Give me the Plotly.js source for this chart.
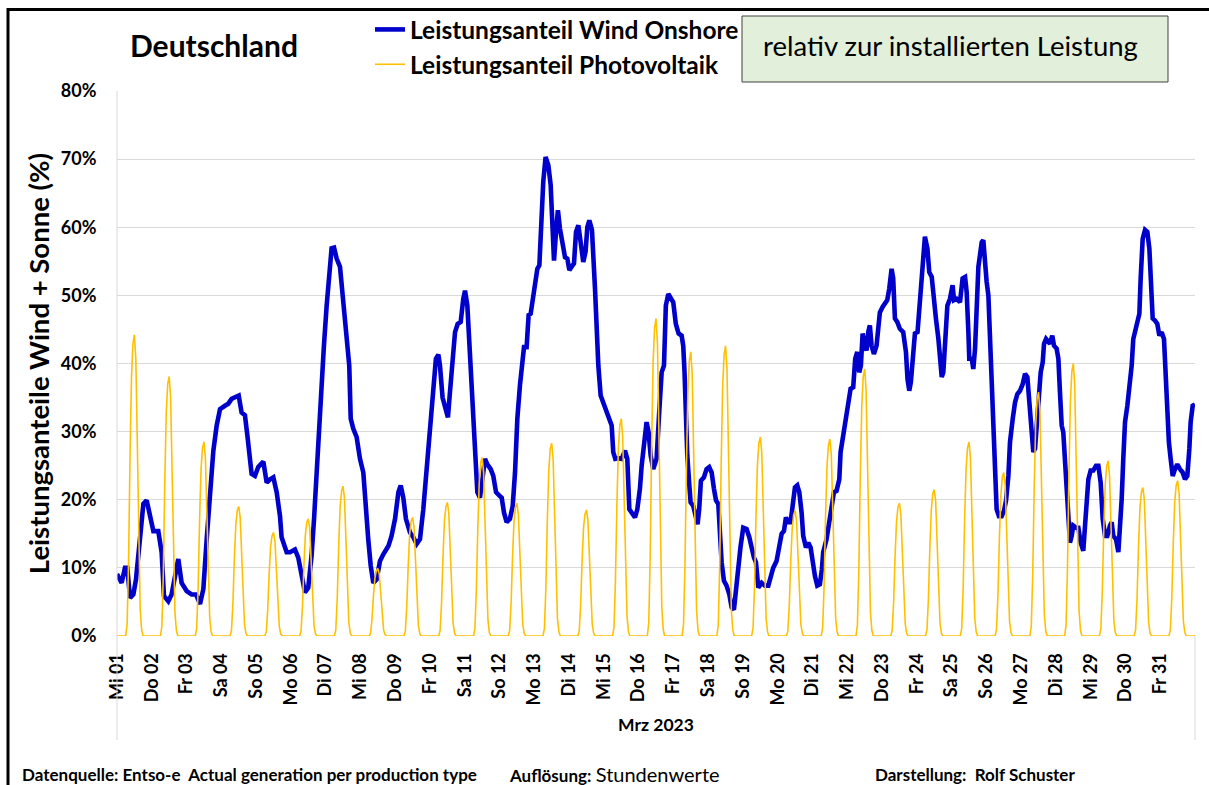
<!DOCTYPE html>
<html><head><meta charset="utf-8">
<script src="https://cdn.plot.ly/plotly-3.0.1.min.js"></script>
<style>html,body{margin:0;padding:0;background:#fff;} #chart{width:1209px;height:785px;}</style>
</head><body><div id="chart"></div>
<script>
const dayLabels = ["Mi 01","Do 02","Fr 03","Sa 04","So 05","Mo 06","Di 07","Mi 08","Do 09","Fr 10","Sa 11","So 12","Mo 13","Di 14","Mi 15","Do 16","Fr 17","Sa 18","So 19","Mo 20","Di 21","Mi 22","Do 23","Fr 24","Sa 25","So 26","Mo 27","Di 28","Mi 29","Do 30","Fr 31"];
const yTickValues = [0,10,20,30,40,50,60,70,80];
const yTickLabels = ["0%","10%","20%","30%","40%","50%","60%","70%","80%"];

// hours since 01.03.2023 00:00
const windHours = [0,3.2,5.5,7.1,9,11.3,13.1,14.7,17,18.2,20.5,22.8,25.1,28.5,30.8,32.4,35.4,37.7,40,42.3,44.6,48.1,51.5,54.5,57.3,59.6,61.9,64.2,66.5,68.8,71.1,74.5,76.8,79.1,82.6,84,86,88.3,90,91.3,92.9,95.2,97.5,101,103.3,105.6,107.9,110.2,112.5,113.6,117.1,119.4,122.8,125.1,127.4,129.7,132,134.3,136,137.8,139.6,141.2,142.8,144.7,146.5,148.1,149.8,151.6,153.9,155.7,157.4,159,160.3,161.3,163.1,165.4,167.7,170,171.2,173.4,175.1,176.9,179.2,181.5,183.8,187.3,189.5,191.9,194.2,195.8,197.6,199.4,202.2,204.5,206.8,209.1,211.4,213.2,214.9,216.5,218.3,220.1,221.8,222.9,224.7,226.6,228.4,229.8,231.6,233.3,235.1,237.2,239,240.2,241.8,243.6,245.5,247.1,248.7,250.5,252.4,254,255.6,257.9,259.7,261.6,263.9,265.5,267.1,268.9,271.2,273.1,274.7,276.3,278.1,280,280.9,282.7,284.1,285.5,286.9,288.5,290.1,291.5,292.8,294.2,295.8,297.7,299.3,300.7,301.6,303,304.3,305.7,307.6,309.2,310.8,312.2,313.8,315.4,316.8,318.4,320,321.8,323.4,324.6,326,327.8,329.9,331,332.2,333.8,335.6,337.5,339.3,341.4,342.5,343.9,346,348.3,350.6,352.2,353.6,355.6,357.5,359.1,360.9,362.1,363.7,365.5,366.9,368.3,370.1,372.4,374.2,375.9,377.5,378.8,380.5,382.1,383.9,385.7,387.6,389.7,390.8,391.7,392.6,393.6,395,395.9,397.7,399.1,400.7,401.8,403,405.1,406.9,408.7,410.4,412,413.4,415,416.1,417.3,418.9,420.7,422.6,424.2,425.8,427.2,428.8,430.4,432.2,434.5,436.4,438,439.6,441,442.6,444.9,447.2,449.5,451.1,452.9,455.2,457.1,458.7,460.3,461.7,463.3,464.9,466.3,467.9,469.5,470.9,472.5,473.6,475.5,477.1,478.7,480.1,481.7,483.3,485.1,486.5,487.4,489.7,491.6,493.2,494.8,496.6,498.5,499.4,500.8,501.7,503.5,504.9,506.3,508.1,509.5,510.9,512.3,513.4,514.6,516.2,517.3,518.5,519.6,520.8,522.4,524.2,525.4,526.5,528.4,530,531.6,533,534.6,535.7,536.9,538.5,540.3,542.6,544.5,545.6,546.8,547.9,549.5,550.7,552.5,554.1,556,557.6,559.3,560.6,562.3,563.4,565.2,566.9,568,569.2,570.3,571.5,573.1,574.9,576.7,577.7,579.5,581.8,583.6,585.3,586.4,587.6,588.2,589.9,591,592.2,593.3,594.5,595.6,596.8,597.9,599.1,600.2,601.4,602.5,603.7,604.8,606,607.1,608.7,610.6,612.2,613.6,615.2,616.3,618.2,619.8,621.4,623.2,625.1,626.7,628.3,629.7,630.8,632.4,633.6,634.7,635.9,637.5,638.9,639.8,641.2,642.8,643.9,645.5,646.7,648.5,649.7,650.8,652,653.1,654.3,655.4,656.6,657.7,658.9,660,661.9,663.5,665.1,666.9,668.1,669.2,670.4,672,673.8,675.7,677.3,678.9,680.3,681.9,683.5,685.3,686.5,687.6,689.5,691.1,692.2,693.4,694.5,695.7,697.3,698.7,700.3,701.4,702.6,704.2,705.6,706.5,707.9,709.5,711.1,712.5,713.6,714.8,716.4,718,719.4,721,722.6,723.7,724.9,726,727.2,728.6,730.2,731.8,733.6,735.5,737.1,738.7,740.1,741,742.4,744];

const windValues = [9.1,7.8,10,10,5.6,6.1,8.3,11.8,15.2,19.4,19.9,17.2,15.4,15.4,12.3,5.9,5.1,6.1,8.8,11.3,7.8,6.6,6.1,6.1,4.7,6.9,14.2,21.6,27.2,30.9,33.3,33.8,34.1,34.8,35.3,35.3,32.8,32.4,29.4,26.5,23.8,23.5,24.8,25.6,22.5,23,23.3,21.1,17.6,14.5,12.3,12.3,12.7,11.5,9.3,6.4,7.1,11.8,17.2,24,32.8,38.7,42.6,48.5,52.5,56.9,57,55.4,54.2,50.5,47.1,43.6,39.7,31.9,30.4,29.2,26,24,20.1,14.2,10.3,7.8,8.3,11,12,13.2,14.7,17.2,21.1,22.1,20.3,17.2,15.2,14.5,13.5,14.2,18.6,23.5,27.9,32.4,35.8,40.7,41.3,39.7,35,33.3,32.1,35.8,40.2,44.6,45.8,46.1,49.5,50.7,48.5,41.7,33.8,26.5,21.1,20.3,23.5,26,25.2,24.5,23.5,21.1,20.6,20.3,18.1,16.7,17.2,19.1,24,31.9,36.8,40.7,42.4,42.4,47.1,47.3,49.5,52.5,53.9,54.4,60.3,66.7,70.3,69.1,66.2,56.9,55.1,59.3,62.5,59.8,57.8,55.6,55.4,53.7,54.2,54.7,59.3,60.3,57.8,54.9,56.4,60,61,59.6,51,43.6,39.7,35.3,34.3,33.3,31.9,30.9,27,26,26.1,26,27.2,26,18.6,18.1,17.4,18.6,21.6,25,27.5,31.4,29.9,26.5,24.5,26,32.8,38.7,39.7,48.5,50.2,49.5,49,45.8,44.4,44.1,42.6,38.7,31.4,26.5,22.1,19.6,19.1,17.6,16.4,18.6,22.8,23.3,24.5,24.8,24,21.6,19.9,19.4,15.2,10.8,8.1,7.4,6.1,4.2,3.9,6.9,10.3,13.2,15.9,15.7,14.5,12.7,11.5,10.8,7.1,7.8,7.4,7.4,8.8,10,11,13.7,15,15.4,17.4,16.7,16.7,19.1,21.8,22.1,21.1,18.1,14.7,13,13.7,13,10.8,8.8,7.4,7.6,9.8,12.3,14.2,16.7,19.1,21.1,21.3,23,27,28.9,30.9,32.4,34.8,36.3,36.5,40.7,41.7,38.7,39.7,44.4,42.6,41.9,44.6,45.6,42.6,41.4,42.6,44.6,47.5,48.3,48.8,49.3,51,53.9,52.5,46.6,46.1,45.1,44.6,41.7,37.7,36,37.3,42.6,44.4,44.6,49.5,55.9,58.6,56.9,53.4,52.7,49.8,46.6,43.6,41.2,38,38.7,44.1,48.5,49.5,51.5,49.3,49.5,49,52.5,52.7,50.5,44.6,40.7,40.7,39.2,42.2,49.5,54.2,55.9,57.8,58.1,54.4,52,50,44.6,38.7,31.4,26,18.6,17.6,17.6,18.4,19.9,23.5,28.4,31.9,34.3,35.5,36,37,38.5,38,34.3,30.4,27,27.5,30.9,35.5,38.7,40.2,42.9,43.6,43.1,42.9,44.1,42.6,42.2,40.7,35.8,30.9,29.9,26,21.1,17.2,13.7,14.7,16.2,15.9,15.9,13.7,12.5,16.2,20.1,23,24.3,24.3,25,25,22.5,17.2,14.7,14.7,16.2,16.7,14.7,14.2,12.3,15.2,20.1,26,31.4,33.8,36.3,39.7,43.6,44.6,46.6,47.3,52.5,58.3,59.6,59.3,56.9,51.5,46.6,46.3,45.8,44.1,44.6,43.6,38.7,32.4,28.4,26,23.5,24.5,25.2,24.5,24,23,23.5,27.5,31.4,33.8,34];

// PV share for the daylight hours 07:00 ... 17:00 of each day (0 outside)
const pvHours = [7,8,9,10,11,12,13,14,15,16,17];
const pvDays = [
 [1.8,11.1,26.5,38.0,42.9,44.2,40.7,30.1,14.6,4.0,0.9],
 [1.5,9.5,22.9,32.8,37.0,38.1,35.1,25.9,12.6,3.4,0.8],
 [1.1,7.1,17.1,24.5,27.6,28.5,26.2,19.4,9.4,2.6,0.6],
 [0.8,4.8,11.4,16.3,18.4,19.0,17.5,12.9,6.3,1.7,0.4],
 [0.6,3.8,9.1,13.1,14.7,15.2,14.0,10.3,5.0,1.4,0.3],
 [0.7,4.3,10.3,14.8,16.7,17.2,15.8,11.7,5.7,1.5,0.3],
 [0.9,5.5,13.2,18.9,21.3,22.0,20.2,15.0,7.3,2.0,0.4],
 [0.4,2.5,5.9,8.5,9.6,9.9,9.1,6.7,3.3,0.9,0.2],
 [0.7,4.4,10.4,15.0,16.9,17.4,16.0,11.8,5.7,1.6,0.3],
 [0.8,4.9,11.8,16.9,19.0,19.6,18.0,13.3,6.5,1.8,0.4],
 [1.0,6.6,15.7,22.5,25.4,26.2,24.1,17.8,8.6,2.4,0.5],
 [0.8,4.9,11.7,16.8,18.9,19.5,17.9,13.3,6.4,1.8,0.4],
 [1.1,7.1,17.0,24.3,27.5,28.3,26.0,19.2,9.3,2.5,0.6],
 [0.7,4.6,11.1,15.9,17.9,18.5,17.0,12.6,6.1,1.7,0.4],
 [1.3,8.0,19.1,27.4,30.9,31.9,29.3,21.7,10.5,2.9,0.6],
 [1.9,11.7,28.0,40.1,45.2,46.6,42.9,31.7,15.4,4.2,0.9],
 [1.7,10.4,25.0,35.9,40.4,41.7,38.4,28.4,13.8,3.8,0.8],
 [1.7,10.7,25.6,36.6,41.3,42.6,39.2,29.0,14.1,3.8,0.9],
 [1.2,7.3,17.5,25.1,28.3,29.2,26.9,19.9,9.6,2.6,0.6],
 [0.7,4.6,11.0,15.8,17.8,18.4,16.9,12.5,6.1,1.7,0.4],
 [1.2,7.2,17.3,24.9,28.0,28.9,26.6,19.7,9.5,2.6,0.6],
 [1.6,9.8,23.5,33.7,38.0,39.2,36.1,26.7,12.9,3.5,0.8],
 [0.8,4.9,11.7,16.8,18.9,19.5,17.9,13.3,6.4,1.8,0.4],
 [0.9,5.4,12.9,18.5,20.9,21.5,19.8,14.6,7.1,1.9,0.4],
 [1.1,7.1,17.1,24.5,27.6,28.5,26.2,19.4,9.4,2.6,0.6],
 [1.0,6.0,14.4,20.6,23.3,24.0,22.1,16.3,7.9,2.2,0.5],
 [1.4,9.0,21.5,30.8,34.7,35.8,32.9,24.3,11.8,3.2,0.7],
 [1.6,10.0,24.0,34.4,38.8,40.0,36.8,27.2,13.2,3.6,0.8],
 [1.0,6.4,15.4,22.1,24.9,25.7,23.6,17.5,8.5,2.3,0.5],
 [0.9,5.5,13.1,18.7,21.1,21.8,20.1,14.8,7.2,2.0,0.4],
 [0.9,5.7,13.7,19.6,22.1,22.8,21.0,15.5,7.5,2.1,0.5]
];

const pvX = [], pvY = [];
for (let d = 0; d < pvDays.length; d++) {
  for (let h = 0; h < 24; h++) {
    const k = pvHours.indexOf(h);
    pvX.push(d + h / 24);
    pvY.push(k >= 0 ? pvDays[d][k] : 0);
  }
}
pvX.push(pvDays.length); pvY.push(0);

const FONT = 'Lato, "Open Sans", sans-serif';
const W = 1209, H = 785, L = 117, R = 1195, T = 91, B = 636;
const px = v => (v - L) / (R - L);
const py = v => (B - v) / (B - T);

const traces = [
  { x: windHours.map(h => h / 24), y: windValues, mode: 'lines', name: 'Leistungsanteil Wind Onshore',
    legendgroup: 'w', line: { color: '#0000CC', width: 4.6 }, hoverinfo: 'skip' },
  { x: pvX, y: pvY, mode: 'lines', name: 'Leistungsanteil Photovoltaik',
    legendgroup: 'p', line: { color: '#FFC000', width: 1.6 }, hoverinfo: 'skip' }
];

const layout = {
  width: W, height: H,
  margin: { l: L, r: W - R, t: T, b: H - B, pad: 0, autoexpand: false },
  paper_bgcolor: '#ffffff', plot_bgcolor: '#ffffff',
  font: { family: FONT, color: '#000000' },
  showlegend: true,
  legend: { x: px(370), xanchor: 'left', yref: 'container', y: 1 - 7 / H, yanchor: 'top', bgcolor: 'rgba(0,0,0,0)',
            font: { size: 24.5, weight: 'bold', family: FONT }, tracegroupgap: 9, traceorder: 'normal' },
  xaxis: { range: [0, 31], tickmode: 'array', tickvals: dayLabels.map((_, i) => i), ticktext: dayLabels,
           tickangle: -90, tickfont: { size: 18, weight: 'bold', family: FONT },
           ticks: 'outside', ticklen: 9, tickcolor: 'rgba(0,0,0,0)',
           showgrid: false, zeroline: false, showline: false, fixedrange: true,
           title: { text: 'Mrz 2023', font: { size: 17.5, weight: 'bold', family: FONT }, standoff: 14 } },
  yaxis: { range: [0, 80], tickmode: 'array', tickvals: yTickValues, ticktext: yTickLabels,
           tickfont: { size: 18, weight: 'bold', family: FONT },
           ticks: 'outside', ticklen: 16, tickcolor: 'rgba(0,0,0,0)',
           showgrid: true, gridcolor: '#D9D9D9', gridwidth: 1, zeroline: false, showline: false, fixedrange: true,
           title: { text: 'Leistungsanteile Wind + Sonne (%)', font: { size: 27.5, weight: 'bold', family: FONT }, standoff: 3 } },
  shapes: [
    { type: 'line', xref: 'paper', yref: 'paper', x0: 0, x1: 0, y0: py(740), y1: 1, line: { color: '#D9D9D9', width: 1 } },
    { type: 'line', xref: 'paper', yref: 'paper', x0: 1, x1: 1, y0: py(740), y1: 0, line: { color: '#D9D9D9', width: 1 } },
    { type: 'line', xref: 'paper', yref: 'paper', x0: px(7), x1: px(1212), y0: py(9.5), y1: py(9.5), line: { color: '#000000', width: 3 } },
    { type: 'line', xref: 'paper', yref: 'paper', x0: px(8), x1: px(8), y0: py(790), y1: py(8), line: { color: '#000000', width: 3 } },
    { type: 'rect', xref: 'paper', yref: 'paper', x0: px(742), x1: px(1168), y0: py(82), y1: py(16),
      fillcolor: '#E2EFDA', line: { color: '#404040', width: 1 } }
  ],
  annotations: [
    { text: 'Deutschland', xref: 'paper', yref: 'paper', x: px(214), y: py(45), xanchor: 'center', yanchor: 'middle',
      showarrow: false, font: { size: 30, weight: 'bold', family: FONT } },
    { text: 'relativ zur installierten Leistung', xref: 'paper', yref: 'paper', x: px(950), y: py(45),
      xanchor: 'center', yanchor: 'middle', showarrow: false, font: { size: 27.5, family: FONT } },
    { text: 'Datenquelle: Entso-e\u00a0 Actual generation per production type', xref: 'paper', yref: 'paper',
      x: px(20), y: py(774), xanchor: 'left', yanchor: 'middle', showarrow: false, font: { size: 17, weight: 'bold', family: FONT } },
    { text: '<b>Auflösung:</b> <span style="font-size:20px">Stundenwerte</span>', xref: 'paper', yref: 'paper',
      x: px(507), y: py(774), xanchor: 'left', yanchor: 'middle', showarrow: false, font: { size: 17, family: FONT } },
    { text: 'Darstellung:\u00a0 Rolf Schuster', xref: 'paper', yref: 'paper',
      x: px(873), y: py(774), xanchor: 'left', yanchor: 'middle', showarrow: false, font: { size: 17, weight: 'bold', family: FONT } }
  ]
};

Plotly.newPlot('chart', traces, layout, { displayModeBar: false, staticPlot: true });
</script>
</body></html>
